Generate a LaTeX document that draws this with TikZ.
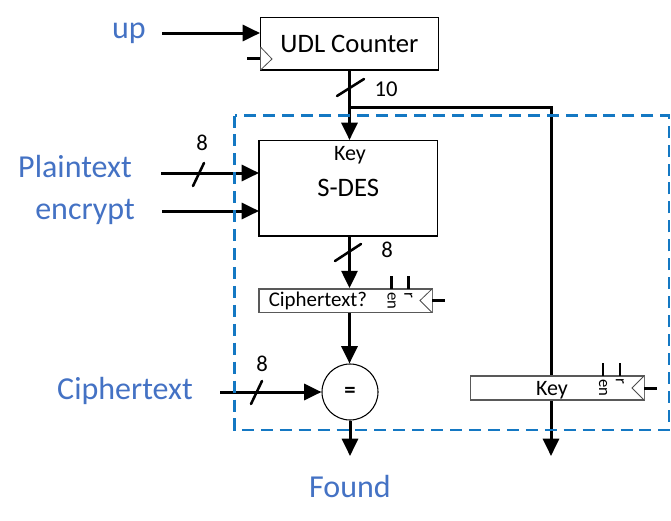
\documentclass[tikz,border=0pt]{standalone}
\usepackage{fontspec}
\setmainfont{Carlito}
\usetikzlibrary{arrows.meta,calc}
\definecolor{lbl}{RGB}{68,114,196}
\definecolor{dashblue}{RGB}{20,120,195}
\tikzset{
  x=0.75pt,y=-0.75pt,
  wire/.style={line width=2.25pt,draw=black},
  arrowwire/.style={wire,-{Triangle[length=13pt,width=12pt]}},
  slash/.style={line width=1.9pt,line cap=round},
  pin/.style={line width=2pt},
  blockbox/.style={draw=black,line width=0.8pt,inner sep=0pt,fill=white},
  bigtxt/.style={font=\fontsize{20pt}{22pt}\selectfont},
  regbox/.style={draw=black!65,line width=1.3pt,inner sep=0pt,fill=white},
  clk/.style={draw=black!70,line width=0.6pt,fill=white},
  sig/.style={text=lbl,font=\fontsize{24pt}{26pt}\selectfont,inner sep=0pt},
  num/.style={font=\fontsize{17pt}{19pt}\selectfont,inner sep=0pt},
  txt/.style={font=\fontsize{16.5pt}{18pt}\selectfont,inner sep=0pt},
  regtxt/.style={font=\fontsize{15.7pt}{17pt}\selectfont,inner sep=0pt},
  tinytxt/.style={font=\fontsize{12.5pt}{14pt}\selectfont,inner sep=0pt,rotate=-90},
  region/.style={draw=dashblue,line width=1.9pt,dash pattern=on 9pt off 5.2pt},
}
\begin{document}
\begin{tikzpicture}
\useasboundingbox (0,0) rectangle (671,521);
% labels
\node[sig] (lup) at (129,33) {up};
\node[sig] (lplain) at (75,167) {Plaintext};
\node[sig] (lenc) at (85,212) {encrypt};
\node[sig] (lcip) at (125,391) {Ciphertext};
\node[sig] (lfound) at (350,487) {Found};
% boxes
\node[blockbox,bigtxt,minimum width=133.5pt,minimum height=39.4pt] (udl) at (349.5,43.75) {UDL Counter};
\node[blockbox,bigtxt,minimum width=133.9pt,minimum height=71.6pt] (des) at (348.25,188.25) {S-DES};
\node[txt] (deskey) at (350,155) {Key};
\node[regbox,minimum width=129.75pt,minimum height=17.6pt] (cipher) at (345.5,300.75) {};
\node[regtxt,anchor=west] (ciphertxt) at (268.5,301) {Ciphertext?};
\node[regbox,minimum width=130pt,minimum height=18pt] (keyreg) at (557.25,388) {};
\node[txt] (keytxt) at (552,390) {Key};
\node[circle,draw=black,line width=0.8pt,minimum size=42pt,inner sep=0pt,fill=white,font=\bfseries\fontsize{17pt}{18pt}\selectfont] (eq) at (350,392) {=};
% coordinates
\coordinate (upS) at (162,33);
\coordinate (upE) at (260,33);
\coordinate (clkU) at (247,58);
\coordinate (br) at (349.5,107);
\coordinate (brC) at (551,107);
\coordinate (ptS) at (161,173);
\coordinate (ptE) at (259,173);
\coordinate (enS) at (162,211);
\coordinate (enE) at (259,211);
\coordinate (ctS) at (220,392);
\coordinate (fEnd) at (350,456);
\coordinate (kEnd) at (551,456);
% connectors
\draw[arrowwire] (upS) -- (upE);
\draw[wire] (clkU) -- (260,58);
\draw[arrowwire] (udl.south -| br) -- (des.north -| br);
\draw[wire] (br) -- (brC) -- (brC |- keyreg.north);
\draw[arrowwire] (keyreg.south -| brC) -- (kEnd);
\draw[arrowwire] (ptS) -- (ptE);
\draw[arrowwire] (enS) -- (enE);
\draw[arrowwire] (des.south -| br) -- (cipher.north -| br);
\draw[arrowwire] (cipher.south -| br) -- (eq.north -| br);
\draw[arrowwire] (ctS) -- (eq.west);
\draw[arrowwire] (eq.south) -- (fEnd);
% slashes
\draw[slash] (337,96) -- (364,79);
\draw[slash] (193,186) -- (204,163);
\draw[slash] (335,261) -- (361,244);
\draw[slash] (251,404) -- (262,381);
% bit labels
\node[num] (n10) at (386,89) {10};
\node[num] (n8a) at (202,143) {8};
\node[num] (n8b) at (387,250) {8};
\node[num] (n8c) at (262,364) {8};
% clock triangles
\draw[clk] (260.5,47) -- (272,59) -- (260.5,70);
\draw[clk] (432,289) -- (420,300.5) -- (432,312.5);
\draw[clk] (644,376) -- (632,388) -- (644,400);
% register pins
\draw[wire] (432,300.5) -- (445,300.5);
\draw[wire] (644,388) -- (657,388);
\draw[pin] (391.5,276) -- (391.5,289);
\draw[pin] (408.5,276) -- (408.5,289);
\draw[pin] (603,363) -- (603,376);
\draw[pin] (620,363) -- (620,376);
\node[tinytxt] (en1) at (391.5,301) {en};
\node[tinytxt] (r1) at (408.5,295) {r};
\node[tinytxt] (en2) at (603,388) {en};
\node[tinytxt] (r2) at (620,381) {r};
% dashed region
\draw[region] (234.5,115.5) rectangle (669,430);
\end{tikzpicture}
\end{document}
